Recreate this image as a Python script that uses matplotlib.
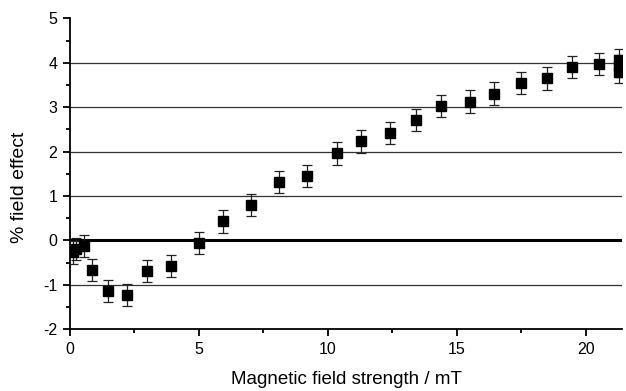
import matplotlib
matplotlib.use("Agg")
import matplotlib.pyplot as plt
from matplotlib.ticker import MultipleLocator

plt.rcParams['font.family'] = ['Liberation Sans', 'DejaVu Sans']
plt.rcParams['axes.unicode_minus'] = False

field_mT = [0.1, 0.25, 0.55, 0.86, 1.48, 2.2, 3.0, 3.9, 4.99, 5.94, 7.0, 8.1, 9.17,
            10.34, 11.3, 12.4, 13.4, 14.37, 15.5, 16.43, 17.47, 18.5, 19.46, 20.5,
            21.3, 21.3, 21.3]
field_effect = [-0.27, -0.2, -0.13, -0.66, -1.13, -1.23, -0.69, -0.57, -0.06, 0.43,
                0.80, 1.31, 1.45, 1.96, 2.23, 2.43, 2.71, 3.03, 3.13, 3.31, 3.54,
                3.65, 3.91, 3.97, 4.07, 3.93, 3.80]
errors = [0.25] * len(field_mT)
gridlines_y = [-1, 1, 2, 3, 4]

fig = plt.figure(figsize=(6.26, 3.91), dpi=100)
ax = fig.add_axes([0.1118, 0.1578, 0.8818, 0.7949])

for gy in gridlines_y:
    ax.axhline(gy, color='#333333', lw=0.9, zorder=1)
ax.axhline(0, color='black', lw=2.2, zorder=1)

ax.errorbar(field_mT, field_effect, yerr=errors, fmt='s', color='black',
            ms=7, ecolor='#222222', elinewidth=0.9, capsize=3.5, capthick=0.9, zorder=3)

ax.set_xlim(0, 21.4)
ax.set_ylim(-2, 5)
ax.xaxis.set_major_locator(MultipleLocator(5))
ax.xaxis.set_minor_locator(MultipleLocator(2.5))
ax.yaxis.set_major_locator(MultipleLocator(1))
ax.yaxis.set_minor_locator(MultipleLocator(0.5))
for s in ['top', 'right']:
    ax.spines[s].set_visible(False)
for s in ['left', 'bottom']:
    ax.spines[s].set_linewidth(1.3)
ax.tick_params(which='major', direction='out', length=5, width=1.3, labelsize=11.5, pad=4)
ax.tick_params(which='minor', direction='out', length=3, width=1.3)

ax.set_xlabel('Magnetic field strength / mT', fontsize=13.5, labelpad=10)
ax.set_ylabel('% field effect', fontsize=14)
ax.yaxis.set_label_coords(-0.076, 0.458)

fig.savefig('out.png', dpi=100)
